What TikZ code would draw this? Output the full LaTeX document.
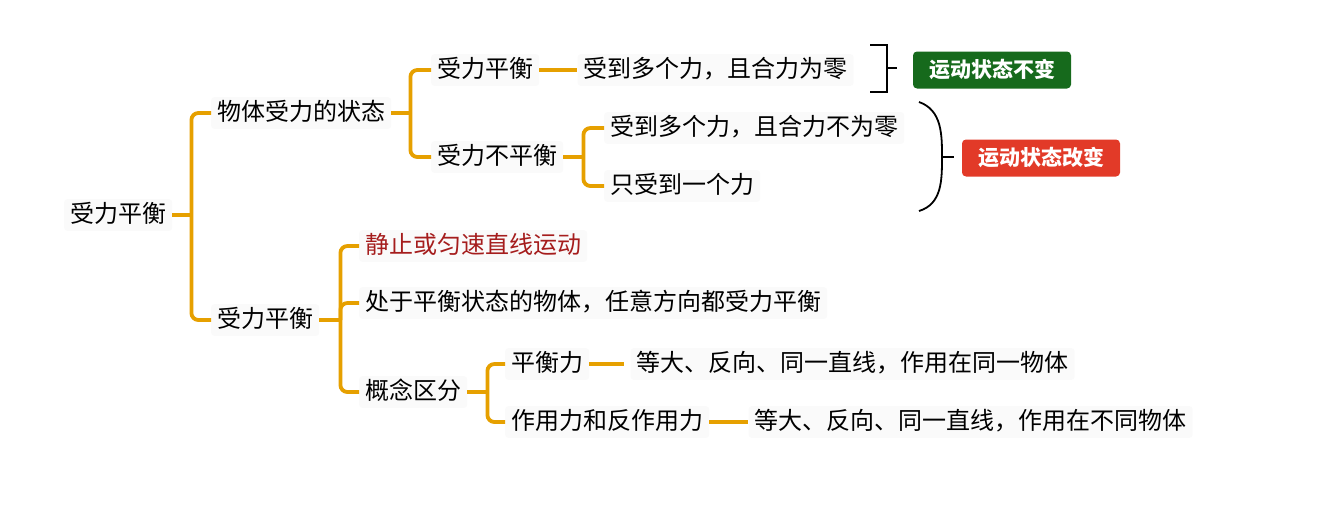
\documentclass[tikz,border=0pt]{standalone}
\usepackage{fontspec}
\setmainfont{Noto Sans CJK SC}
\usetikzlibrary{positioning}

\definecolor{branchcol}{RGB}{230,160,0}
\definecolor{topicbg}{RGB}{250,250,250}
\definecolor{keepgreen}{RGB}{22,106,28}
\definecolor{changered}{RGB}{226,58,40}
\definecolor{notered}{RGB}{165,29,29}

\begin{document}
\begin{tikzpicture}[
  x=1pt,y=-1pt,
  every node/.style={font=\fontsize{24}{28}\selectfont},
  topic/.style={
    anchor=west,
    fill=topicbg,
    rounded corners=3pt,
    inner xsep=6pt,
    text height=20pt,
    text depth=5pt
  },
  result/.style={
    rounded corners=4pt,
    text=white,
    minimum width=158pt,
    minimum height=37pt,
    font=\fontsize{21}{24}\selectfont\bfseries
  },
  branch/.style={draw=branchcol,line width=3.8pt,rounded corners=7pt},
  brace/.style={draw=black,line width=1.8pt}
]
  \useasboundingbox (0,0) rectangle (1329,528);

  % main topic and first level
  \node[topic] (root) at (64,215) {受力平衡};
  \node[topic] (state) at (211,113) {物体受力的状态};
  \node[topic] (balance) at (211,320) {受力平衡};

  % forces on a body
  \node[topic] (bal) at (431,70) {受力平衡};
  \node[topic,right=38pt of bal] (zero) {受到多个力，且合力为零};
  \node[topic] (unbal) at (431,157) {受力不平衡};
  \node[topic] (nonzero) at (604,128) {受到多个力，且合力不为零};
  \node[topic] (one) at (604,186) {只受到一个力};

  \node[result,fill=keepgreen] (keep) at (992,70) {运动状态不变};
  \node[result,fill=changered] (change) at (1041,158) {运动状态改变};

  % equilibrium
  \node[topic,text=notered] (still) at (359,246) {静止或匀速直线运动};
  \node[topic] (anydir) at (359,303) {处于平衡状态的物体，任意方向都受力平衡};
  \node[topic] (concept) at (359,392) {概念区分};
  \node[topic] (pair) at (505,364) {平衡力};
  \node[topic,right=41pt of pair] (pairdesc) {等大、反向、同一直线，作用在同一物体};
  \node[topic] (action) at (505,422) {作用力和反作用力};
  \node[topic,right=39pt of action] (actiondesc) {等大、反向、同一直线，作用在不同物体};

  % branches
  \coordinate[right=19pt of root.east] (j0);
  \draw[branch] (root.east) -- (j0);
  \draw[branch] (state.west) -| (j0) |- (balance.west);

  \coordinate[right=19pt of state.east] (j1);
  \draw[branch] (state.east) -- (j1);
  \draw[branch] (bal.west) -| (j1) |- (unbal.west);
  \draw[branch] (bal.east) -- (zero.west);

  \coordinate[right=20pt of unbal.east] (j2);
  \draw[branch] (unbal.east) -- (j2);
  \draw[branch] (nonzero.west) -| (j2) |- (one.west);

  \coordinate[right=21pt of balance.east] (j3);
  \draw[branch] (balance.east) -- (j3);
  \draw[branch] (still.west) -| (j3) |- (concept.west);
  \draw[branch] (j3) |- (anydir.west);

  \coordinate[right=20pt of concept.east] (j4);
  \draw[branch] (concept.east) -- (j4);
  \draw[branch] (pair.west) -| (j4) |- (action.west);
  \draw[branch,shorten >=6pt] (pair.east) -- (pairdesc.west);
  \draw[branch] (action.east) -- (actiondesc.west);

  % summary brackets
  \coordinate (b1top) at (870,45);
  \coordinate (b1bot) at (870,92);
  \coordinate (b1mid) at (887,68);
  \draw[brace] (b1top) -| (b1mid) |- (b1bot);
  \draw[brace] (b1mid) -- ++(10,0) coordinate (b1end);

  \coordinate (b2top) at (919,102);
  \coordinate (b2mid) at (942,157);
  \coordinate (b2bot) at (919,211);
  \draw[brace] (b2top) .. controls (942,110) and (942,135) .. (b2mid)
    .. controls (942,180) and (942,204) .. (b2bot);
  \draw[brace] (b2mid) -- ++(12,0) coordinate (b2end);
\end{tikzpicture}
\end{document}
